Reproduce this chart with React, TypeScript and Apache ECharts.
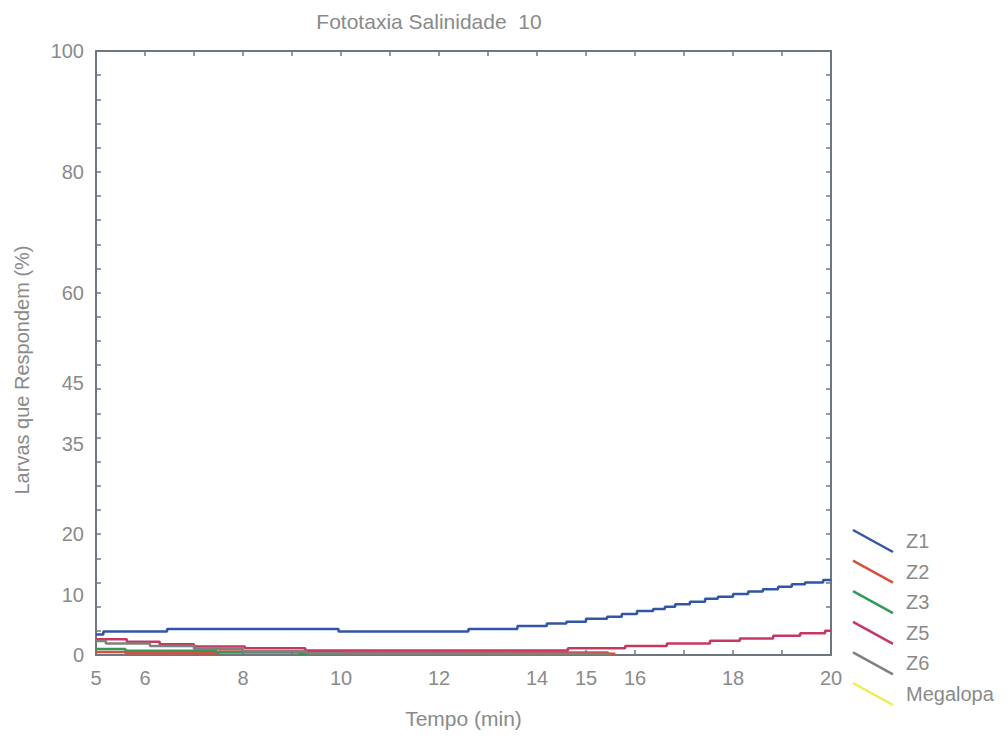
import React, { useEffect, useRef } from "react";
import * as echarts from "echarts";

const seriesNames = ["Z1", "Z2", "Z3", "Z5", "Z6", "Megalopa"];
const seriesColors = ["#3256a6", "#d6503f", "#34985a", "#c63862", "#7f8080", "#f3ec4e"];

const z1Times = [5, 5.15, 6.45, 9.95, 12.6, 13.6, 14.2, 14.6, 15.0, 15.43, 15.73, 16.04, 16.37, 16.61, 16.82, 17.12, 17.43, 17.69, 18.0, 18.31, 18.61, 18.92, 19.2, 19.47, 19.84, 20];
const z1Values = [3.4, 3.9, 4.3, 3.9, 4.3, 4.8, 5.2, 5.5, 6.0, 6.35, 6.8, 7.3, 7.6, 8.0, 8.4, 8.8, 9.3, 9.65, 10.1, 10.5, 10.9, 11.3, 11.7, 12.0, 12.4, 12.4];

const z2Times = [5, 5.6, 7.5, 10.0, 15.45, 15.6];
const z2Values = [0.5, 0.3, 0.6, 0.4, 0.2, 0.2];

const z3Times = [5, 5.6, 7.46, 9.16, 10.0];
const z3Values = [1.0, 0.7, 0.4, 0.15, 0.15];

const z5Times = [5, 5.63, 6.3, 7.0, 8.04, 9.27, 14.63, 15.8, 16.65, 17.53, 18.14, 18.82, 19.37, 19.88, 20];
const z5Values = [2.6, 2.2, 1.8, 1.4, 1.1, 0.75, 1.1, 1.5, 1.9, 2.35, 2.75, 3.2, 3.6, 4.0, 4.0];

const z6Times = [5, 5.2, 6.1, 7.0, 8.0, 9.3, 10.0, 15.5];
const z6Values = [2.3, 1.9, 1.5, 1.05, 0.6, 0.25, 0.15, 0.15];

const megalopaTimes: number[] = [];
const megalopaValues: number[] = [];

const xTickLabels = [5, 6, 8, 10, 12, 14, 15, 16, 18, 20];
const yTickLabels = [0, 10, 20, 35, 45, 60, 80, 100];

const allTimes = [z1Times, z2Times, z3Times, z5Times, z6Times, megalopaTimes];
const allValues = [z1Values, z2Values, z3Values, z5Values, z6Values, megalopaValues];

const textColor = "#8a8a8a";
const axisColor = "#6e7780";
const fontFamily = "Liberation Sans, Arial, sans-serif";

export default function App() {
  const ref = useRef<HTMLDivElement>(null);
  useEffect(() => {
    if (!ref.current) return;
    const chart = echarts.init(ref.current, null, { renderer: "svg" });
    const boxAxis = {
      min: 0,
      max: 100,
      interval: 4,
      axisLine: { show: true, lineStyle: { color: axisColor, width: 2 } },
      axisTick: { show: true, inside: true, length: 5, lineStyle: { color: axisColor, width: 1.5 } },
      axisLabel: { show: false },
      splitLine: { show: false },
    };
    const legendGraphics: any[] = [];
    seriesNames.forEach((name, i) => {
      const y0 = 530 + i * 30.6;
      legendGraphics.push({
        type: "line",
        shape: { x1: 853, y1: y0, x2: 893, y2: y0 + 22 },
        style: { stroke: seriesColors[i], lineWidth: 2.5 },
      });
      legendGraphics.push({
        type: "text",
        x: 906,
        y: y0 + 11,
        style: {
          text: name,
          fill: textColor,
          fontSize: 20,
          fontFamily,
          align: "left",
          verticalAlign: "middle",
        },
      });
    });
    const option: any = {
      animation: false,
      backgroundColor: "#ffffff",
      textStyle: { fontFamily },
      title: {
        text: "Fototaxia Salinidade  10",
        left: 424,
        top: 6,
        textAlign: "center",
        textStyle: { color: textColor, fontSize: 21, fontWeight: "normal", fontFamily },
      },
      grid: { left: 96, top: 51, right: 176, bottom: 85 },
      graphic: [
        {
          type: "text",
          x: 22,
          y: 370,
          rotation: Math.PI / 2,
          style: {
            text: "Larvas que Respondem (%)",
            fill: textColor,
            fontSize: 20,
            fontFamily,
            align: "center",
            verticalAlign: "middle",
          },
        },
        ...legendGraphics,
      ],
      xAxis: [
        {
          type: "value",
          position: "bottom",
          min: 5,
          max: 20,
          interval: 1,
          name: "Tempo (min)",
          nameLocation: "middle",
          nameGap: 53,
          nameTextStyle: { color: textColor, fontSize: 21, fontFamily },
          axisLine: { show: true, onZero: false, lineStyle: { color: axisColor, width: 2 } },
          axisTick: { show: true, inside: true, length: 5, lineStyle: { color: axisColor, width: 1.5 } },
          axisLabel: {
            color: textColor,
            fontSize: 20,
            fontFamily,
            margin: 13,
            formatter: (v: number) => (xTickLabels.indexOf(v) >= 0 ? String(v) : ""),
          },
          splitLine: { show: false },
        },
        {
          type: "value",
          position: "top",
          min: 5,
          max: 20,
          interval: 1,
          axisLine: { show: true, onZero: false, lineStyle: { color: axisColor, width: 2 } },
          axisTick: { show: true, inside: true, length: 5, lineStyle: { color: axisColor, width: 1.5 } },
          axisLabel: { show: false },
          splitLine: { show: false },
        },
      ],
      yAxis: [
        { type: "value", position: "left", ...boxAxis },
        { type: "value", position: "right", ...boxAxis },
        {
          type: "value",
          position: "left",
          min: 0,
          max: 100,
          interval: 5,
          axisLine: { show: false },
          axisTick: { show: false },
          axisLabel: {
            color: textColor,
            fontSize: 20,
            fontFamily,
            margin: 12,
            formatter: (v: number) => (yTickLabels.indexOf(v) >= 0 ? String(v) : ""),
          },
          splitLine: { show: false },
        },
      ],
      series: seriesNames.map((name, i) => ({
        name,
        type: "line",
        step: "end",
        xAxisIndex: 0,
        yAxisIndex: 0,
        showSymbol: false,
        symbol: "none",
        color: seriesColors[i],
        lineStyle: { color: seriesColors[i], width: 2.5 },
        data: allTimes[i].map((t, j) => [t, allValues[i][j]]),
      })),
    };
    chart.setOption(option);
    return () => chart.dispose();
  }, []);
  return (
    <div
      ref={ref}
      style={{ position: "fixed", left: 0, top: 0, width: 1007, height: 740, background: "#fff" }}
    />
  );
}
